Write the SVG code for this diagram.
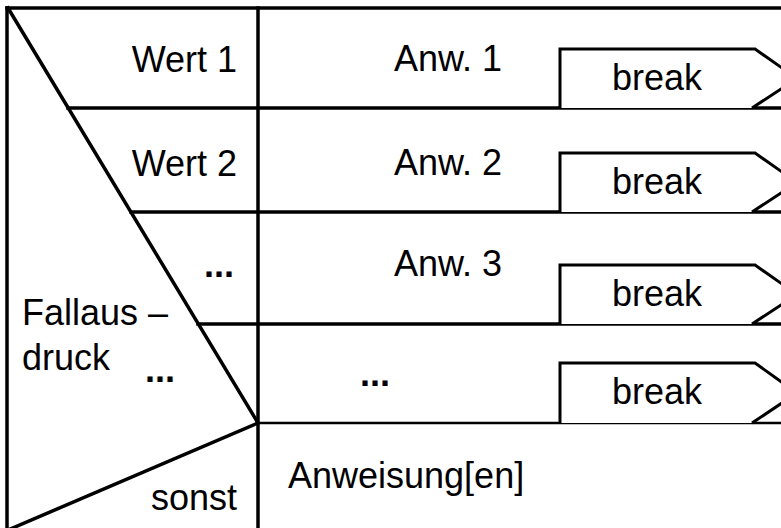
<svg xmlns="http://www.w3.org/2000/svg" width="781" height="528" viewBox="0 0 781 528">
<style>
  .ln { stroke: #000; stroke-width: 3.5; fill: none; stroke-linecap: square; }
  .thin { stroke: #000; stroke-width: 2.5; fill: none; }
  .bx { stroke: #000; stroke-width: 3; fill: #fff; stroke-linejoin: miter; }
  text { font-family: "Liberation Sans", Arial, sans-serif; font-size: 36px; fill: #000; }
  .r { text-anchor: end; }
  .m { text-anchor: middle; }
  .b { font-weight: bold; }
</style>
<rect width="781" height="528" fill="#fff"/>
<g id="frame">
  <line class="ln" x1="7" y1="8" x2="785" y2="8"/>
  <line class="ln" x1="7" y1="8" x2="7" y2="532"/>
  <line class="ln" x1="258" y1="8" x2="258" y2="532"/>
  <line class="ln" x1="8" y1="8" x2="258" y2="423"/>
  <line class="ln" x1="258" y1="423" x2="8" y2="530"/>
  <line class="ln" x1="68" y1="108" x2="785" y2="108"/>
  <line class="ln" x1="131" y1="212" x2="785" y2="212"/>
  <line class="ln" x1="198" y1="324" x2="785" y2="324"/>
  <line class="thin" x1="258" y1="423" x2="785" y2="423"/>
</g>
<g id="selector">
  <text x="22" y="325">Fallaus –</text>
  <text x="22" y="370">druck</text>
</g>
<g id="case1">
  <text class="r" x="237" y="72">Wert 1</text>
  <text class="m" x="448" y="71">Anw. 1</text>
  <path class="bx" d="M560,108 V49 H755 L797,78.5 L752,108"/>
  <text class="m" x="657" y="90">break</text>
</g>
<g id="case2">
  <text class="r" x="237" y="176">Wert 2</text>
  <text class="m" x="448" y="175">Anw. 2</text>
  <path class="bx" d="M560,212 V153 H755 L797,182.5 L752,212"/>
  <text class="m" x="657" y="194">break</text>
</g>
<g id="case3">
  <text class="r b" x="234" y="277">...</text>
  <text class="m" x="448" y="276">Anw. 3</text>
  <path class="bx" d="M560,324 V265 H755 L797,294.5 L752,324"/>
  <text class="m" x="657" y="306">break</text>
</g>
<g id="case4">
  <text class="b" x="145" y="382">...</text>
  <text class="m b" x="375" y="386">...</text>
  <path class="bx" d="M560,423 V363 H755 L797,393 L752,423"/>
  <text class="m" x="657" y="404">break</text>
</g>
<g id="default">
  <text class="r" x="237" y="510">sonst</text>
  <text x="288" y="488">Anweisung[en]</text>
</g>
</svg>
